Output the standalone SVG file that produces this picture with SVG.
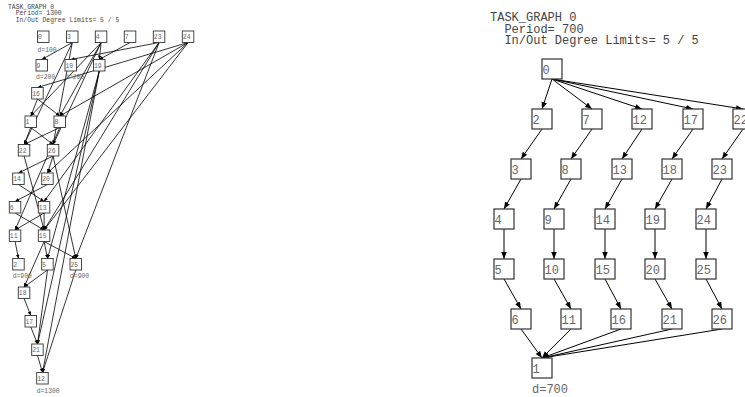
<svg xmlns="http://www.w3.org/2000/svg" width="745" height="397" viewBox="0 0 745 397">
<style>
  .bg { fill: #ffffff; }
  .t { font-family: "Liberation Mono", "DejaVu Sans Mono", monospace; fill: #444; }
  .tl { font-size: 6.4px; }
  .tr { font-size: 12px; }
  .lbl { fill: #666; }
  .boxL { fill: #fff; stroke: #333; stroke-width: 0.9; }
  .boxR { fill: #fff; stroke: #333; stroke-width: 1.2; }
  .eL { stroke: #000; stroke-width: 0.8; fill: none; marker-end: url(#arrL); }
  .eR { stroke: #000; stroke-width: 1; fill: none; marker-end: url(#arrR); }
</style>
<defs>
  <marker id="arrL" markerUnits="userSpaceOnUse" markerWidth="4" markerHeight="4" refX="4" refY="1.75" orient="auto">
    <path d="M0,0 L4,1.75 L0,3.5 z" fill="#000"/>
  </marker>
  <marker id="arrR" markerUnits="userSpaceOnUse" markerWidth="7" markerHeight="6" refX="7" refY="2.75" orient="auto">
    <path d="M0,0 L7,2.75 L0,5.5 z" fill="#000"/>
  </marker>
</defs>
<rect class="bg" x="0" y="0" width="745" height="397"/>

<!-- Left graph title -->
<g id="L-title" class="t tl">
  <text x="8" y="8.5">TASK_GRAPH 0</text>
  <text x="15.7" y="15">Period= 1300</text>
  <text x="15.7" y="21.5">In/Out Degree Limits= 5 / 5</text>
</g>

<!-- Right graph title -->
<g id="R-title" class="t tr">
  <text x="490" y="21">TASK_GRAPH 0</text>
  <text x="504.4" y="32.5">Period= 700</text>
  <text x="504.4" y="44">In/Out Degree Limits= 5 / 5</text>
</g>

<g id="connectors">
  <!-- left graph -->
  <line class="eL" x1="72.3" y1="42.5" x2="41.8" y2="59.5"/>
  <line class="eL" x1="72.3" y1="42.5" x2="24.1" y2="144.5"/>
  <line class="eL" x1="72.3" y1="42.5" x2="53.1" y2="144.5"/>
  <line class="eL" x1="101.1" y1="42.5" x2="99.3" y2="59.5"/>
  <line class="eL" x1="101.1" y1="42.5" x2="30.8" y2="116"/>
  <line class="eL" x1="101.1" y1="42.5" x2="59.8" y2="116"/>
  <line class="eL" x1="101.1" y1="42.5" x2="53.1" y2="144.5"/>
  <line class="eL" x1="130.1" y1="42.5" x2="99.3" y2="59.5"/>
  <line class="eL" x1="159.1" y1="42.5" x2="70.8" y2="59.5"/>
  <line class="eL" x1="159.1" y1="42.5" x2="44.1" y2="201.5"/>
  <line class="eL" x1="159.1" y1="42.5" x2="44.1" y2="230"/>
  <line class="eL" x1="159.1" y1="42.5" x2="75.8" y2="258.5"/>
  <line class="eL" x1="188.1" y1="42.5" x2="37.5" y2="87.5"/>
  <line class="eL" x1="188.1" y1="42.5" x2="59.8" y2="116"/>
  <line class="eL" x1="188.1" y1="42.5" x2="44.1" y2="230"/>
  <line class="eL" x1="188.1" y1="42.5" x2="47.5" y2="173"/>
  <line class="eL" x1="99.3" y1="71" x2="47.5" y2="258.5"/>
  <line class="eL" x1="99.3" y1="71" x2="37.5" y2="344"/>
  <line class="eL" x1="99.3" y1="71" x2="42.5" y2="372.5"/>
  <line class="eL" x1="37.5" y1="99" x2="30.8" y2="116"/>
  <line class="eL" x1="37.5" y1="99" x2="59.8" y2="116"/>
  <line class="eL" x1="30.8" y1="127.5" x2="24.1" y2="144.5"/>
  <line class="eL" x1="30.8" y1="127.5" x2="53.1" y2="144.5"/>
  <line class="eL" x1="59.8" y1="127.5" x2="24.1" y2="144.5"/>
  <line class="eL" x1="59.8" y1="127.5" x2="15.1" y2="230"/>
  <line class="eL" x1="24.1" y1="156" x2="44.1" y2="230"/>
  <line class="eL" x1="53.1" y1="156" x2="18.5" y2="173"/>
  <line class="eL" x1="53.1" y1="156" x2="47.5" y2="173"/>
  <line class="eL" x1="53.1" y1="156" x2="75.8" y2="258.5"/>
  <line class="eL" x1="18.5" y1="184.5" x2="44.1" y2="201.5"/>
  <line class="eL" x1="47.5" y1="184.5" x2="15.1" y2="201.5"/>
  <line class="eL" x1="15.1" y1="213" x2="44.1" y2="230"/>
  <line class="eL" x1="44.1" y1="213" x2="15.1" y2="230"/>
  <line class="eL" x1="44.1" y1="213" x2="44.1" y2="230"/>
  <line class="eL" x1="15.1" y1="241.5" x2="18.5" y2="258.5"/>
  <line class="eL" x1="44.1" y1="241.5" x2="47.5" y2="258.5"/>
  <line class="eL" x1="44.1" y1="241.5" x2="24.1" y2="287"/>
  <line class="eL" x1="44.1" y1="241.5" x2="75.8" y2="258.5"/>
  <line class="eL" x1="47.5" y1="270" x2="24.1" y2="287"/>
  <line class="eL" x1="47.5" y1="270" x2="37.5" y2="344"/>
  <line class="eL" x1="24.1" y1="298.5" x2="30.8" y2="315.5"/>
  <line class="eL" x1="30.8" y1="327" x2="37.5" y2="344"/>
  <line class="eL" x1="37.5" y1="355.5" x2="42.5" y2="372.5"/>
  <line class="eL" x1="75.8" y1="270" x2="42.5" y2="372.5"/>

  <!-- right graph -->
  <line class="eR" x1="552" y1="79" x2="542" y2="109"/>
  <line class="eR" x1="552" y1="79" x2="592" y2="109"/>
  <line class="eR" x1="552" y1="79" x2="642" y2="109"/>
  <line class="eR" x1="552" y1="79" x2="693" y2="109"/>
  <line class="eR" x1="552" y1="79" x2="743" y2="109"/>

  <line class="eR" x1="542" y1="129" x2="521" y2="159"/>
  <line class="eR" x1="592" y1="129" x2="571" y2="159"/>
  <line class="eR" x1="642" y1="129" x2="622" y2="159"/>
  <line class="eR" x1="693" y1="129" x2="672" y2="159"/>
  <line class="eR" x1="743" y1="129" x2="722" y2="159"/>

  <line class="eR" x1="521" y1="179" x2="504" y2="209"/>
  <line class="eR" x1="571" y1="179" x2="554" y2="209"/>
  <line class="eR" x1="622" y1="179" x2="605" y2="209"/>
  <line class="eR" x1="672" y1="179" x2="655" y2="209"/>
  <line class="eR" x1="722" y1="179" x2="706" y2="209"/>

  <line class="eR" x1="504" y1="229" x2="504" y2="259"/>
  <line class="eR" x1="554" y1="229" x2="554" y2="259"/>
  <line class="eR" x1="605" y1="229" x2="605" y2="259"/>
  <line class="eR" x1="655" y1="229" x2="655" y2="259"/>
  <line class="eR" x1="706" y1="229" x2="706" y2="259"/>

  <line class="eR" x1="504" y1="279" x2="521" y2="309"/>
  <line class="eR" x1="554" y1="279" x2="571" y2="309"/>
  <line class="eR" x1="605" y1="279" x2="621" y2="309"/>
  <line class="eR" x1="655" y1="279" x2="672" y2="309"/>
  <line class="eR" x1="706" y1="279" x2="722" y2="309"/>

  <line class="eR" x1="521" y1="329" x2="542" y2="358"/>
  <line class="eR" x1="571" y1="329" x2="542" y2="358"/>
  <line class="eR" x1="621" y1="329" x2="542" y2="358"/>
  <line class="eR" x1="672" y1="329" x2="542" y2="358"/>
  <line class="eR" x1="722" y1="329" x2="542" y2="358"/>
</g>

<!-- Left graph nodes -->
<g id="L-n0"><rect class="boxL" x="37.5" y="31" width="11.5" height="11.5"/><text class="t tl lbl" x="38" y="39.3">0</text><text class="t tl lbl" x="37.5" y="51.5">d=100</text></g>
<g id="L-n3"><rect class="boxL" x="66.5" y="31" width="11.5" height="11.5"/><text class="t tl lbl" x="67" y="39.3">3</text></g>
<g id="L-n4"><rect class="boxL" x="95.3" y="31" width="11.5" height="11.5"/><text class="t tl lbl" x="95.8" y="39.3">4</text></g>
<g id="L-n7"><rect class="boxL" x="124.3" y="31" width="11.5" height="11.5"/><text class="t tl lbl" x="124.8" y="39.3">7</text></g>
<g id="L-n23"><rect class="boxL" x="153.3" y="31" width="11.5" height="11.5"/><text class="t tl lbl" x="153.8" y="39.3">23</text></g>
<g id="L-n24"><rect class="boxL" x="182.3" y="31" width="11.5" height="11.5"/><text class="t tl lbl" x="182.8" y="39.3">24</text></g>
<g id="L-n9"><rect class="boxL" x="36" y="59.5" width="11.5" height="11.5"/><text class="t tl lbl" x="36.5" y="67.8">9</text><text class="t tl lbl" x="36" y="78.5">d=200</text></g>
<g id="L-n10"><rect class="boxL" x="65" y="59.5" width="11.5" height="11.5"/><text class="t tl lbl" x="65.5" y="67.8">10</text><text class="t tl lbl" x="65" y="78.5">d=200</text></g>
<g id="L-n19"><rect class="boxL" x="93.5" y="59.5" width="11.5" height="11.5"/><text class="t tl lbl" x="94" y="67.8">19</text></g>
<g id="L-n16"><rect class="boxL" x="31.7" y="87.5" width="11.5" height="11.5"/><text class="t tl lbl" x="32.2" y="95.8">16</text></g>
<g id="L-n1"><rect class="boxL" x="25" y="116" width="11.5" height="11.5"/><text class="t tl lbl" x="25.5" y="124.3">1</text></g>
<g id="L-n8"><rect class="boxL" x="54" y="116" width="11.5" height="11.5"/><text class="t tl lbl" x="54.5" y="124.3">8</text></g>
<g id="L-n22"><rect class="boxL" x="18.3" y="144.5" width="11.5" height="11.5"/><text class="t tl lbl" x="18.8" y="152.8">22</text></g>
<g id="L-n26"><rect class="boxL" x="47.3" y="144.5" width="11.5" height="11.5"/><text class="t tl lbl" x="47.8" y="152.8">26</text></g>
<g id="L-n14"><rect class="boxL" x="12.7" y="173" width="11.5" height="11.5"/><text class="t tl lbl" x="13.2" y="181.3">14</text></g>
<g id="L-n20"><rect class="boxL" x="41.7" y="173" width="11.5" height="11.5"/><text class="t tl lbl" x="42.2" y="181.3">20</text></g>
<g id="L-n6"><rect class="boxL" x="9.3" y="201.5" width="11.5" height="11.5"/><text class="t tl lbl" x="9.8" y="209.8">6</text></g>
<g id="L-n13"><rect class="boxL" x="38.3" y="201.5" width="11.5" height="11.5"/><text class="t tl lbl" x="38.8" y="209.8">13</text></g>
<g id="L-n11"><rect class="boxL" x="9.3" y="230" width="11.5" height="11.5"/><text class="t tl lbl" x="9.8" y="238.3">11</text></g>
<g id="L-n15"><rect class="boxL" x="38.3" y="230" width="11.5" height="11.5"/><text class="t tl lbl" x="38.8" y="238.3">15</text></g>
<g id="L-n2"><rect class="boxL" x="12.7" y="258.5" width="11.5" height="11.5"/><text class="t tl lbl" x="13.2" y="266.8">2</text><text class="t tl lbl" x="12.7" y="277.5">d=900</text></g>
<g id="L-n5"><rect class="boxL" x="41.7" y="258.5" width="11.5" height="11.5"/><text class="t tl lbl" x="42.2" y="266.8">5</text></g>
<g id="L-n25"><rect class="boxL" x="70" y="258.5" width="11.5" height="11.5"/><text class="t tl lbl" x="70.5" y="266.8">25</text><text class="t tl lbl" x="70" y="277.5">d=900</text></g>
<g id="L-n18"><rect class="boxL" x="18.3" y="287" width="11.5" height="11.5"/><text class="t tl lbl" x="18.8" y="295.3">18</text></g>
<g id="L-n17"><rect class="boxL" x="25" y="315.5" width="11.5" height="11.5"/><text class="t tl lbl" x="25.5" y="323.8">17</text></g>
<g id="L-n21"><rect class="boxL" x="31.7" y="344" width="11.5" height="11.5"/><text class="t tl lbl" x="32.2" y="352.3">21</text></g>
<g id="L-n12"><rect class="boxL" x="36.7" y="372.5" width="11.5" height="11.5"/><text class="t tl lbl" x="37.2" y="380.8">12</text><text class="t tl lbl" x="36.7" y="393">d=1300</text></g>

<!-- Right graph nodes -->
<g id="R-n0"><rect class="boxR" x="542" y="59" width="20" height="20"/><text class="t tr lbl" x="542.5" y="73.5">0</text></g>
<g id="R-n2"><rect class="boxR" x="532" y="109" width="20" height="20"/><text class="t tr lbl" x="532.5" y="123.5">2</text></g>
<g id="R-n7"><rect class="boxR" x="582" y="109" width="20" height="20"/><text class="t tr lbl" x="582.5" y="123.5">7</text></g>
<g id="R-n12"><rect class="boxR" x="632" y="109" width="20" height="20"/><text class="t tr lbl" x="632.5" y="123.5">12</text></g>
<g id="R-n17"><rect class="boxR" x="683" y="109" width="20" height="20"/><text class="t tr lbl" x="683.5" y="123.5">17</text></g>
<g id="R-n22"><rect class="boxR" x="733" y="109" width="20" height="20"/><text class="t tr lbl" x="733.5" y="123.5">22</text></g>
<g id="R-n3"><rect class="boxR" x="511" y="159" width="20" height="20"/><text class="t tr lbl" x="511.5" y="173.5">3</text></g>
<g id="R-n8"><rect class="boxR" x="561" y="159" width="20" height="20"/><text class="t tr lbl" x="561.5" y="173.5">8</text></g>
<g id="R-n13"><rect class="boxR" x="612" y="159" width="20" height="20"/><text class="t tr lbl" x="612.5" y="173.5">13</text></g>
<g id="R-n18"><rect class="boxR" x="662" y="159" width="20" height="20"/><text class="t tr lbl" x="662.5" y="173.5">18</text></g>
<g id="R-n23"><rect class="boxR" x="712" y="159" width="20" height="20"/><text class="t tr lbl" x="712.5" y="173.5">23</text></g>
<g id="R-n4"><rect class="boxR" x="494" y="209" width="20" height="20"/><text class="t tr lbl" x="494.5" y="223.5">4</text></g>
<g id="R-n9"><rect class="boxR" x="544" y="209" width="20" height="20"/><text class="t tr lbl" x="544.5" y="223.5">9</text></g>
<g id="R-n14"><rect class="boxR" x="595" y="209" width="20" height="20"/><text class="t tr lbl" x="595.5" y="223.5">14</text></g>
<g id="R-n19"><rect class="boxR" x="645" y="209" width="20" height="20"/><text class="t tr lbl" x="645.5" y="223.5">19</text></g>
<g id="R-n24"><rect class="boxR" x="696" y="209" width="20" height="20"/><text class="t tr lbl" x="696.5" y="223.5">24</text></g>
<g id="R-n5"><rect class="boxR" x="494" y="259" width="20" height="20"/><text class="t tr lbl" x="494.5" y="273.5">5</text></g>
<g id="R-n10"><rect class="boxR" x="544" y="259" width="20" height="20"/><text class="t tr lbl" x="544.5" y="273.5">10</text></g>
<g id="R-n15"><rect class="boxR" x="595" y="259" width="20" height="20"/><text class="t tr lbl" x="595.5" y="273.5">15</text></g>
<g id="R-n20"><rect class="boxR" x="645" y="259" width="20" height="20"/><text class="t tr lbl" x="645.5" y="273.5">20</text></g>
<g id="R-n25"><rect class="boxR" x="696" y="259" width="20" height="20"/><text class="t tr lbl" x="696.5" y="273.5">25</text></g>
<g id="R-n6"><rect class="boxR" x="511" y="309" width="20" height="20"/><text class="t tr lbl" x="511.5" y="323.5">6</text></g>
<g id="R-n11"><rect class="boxR" x="561" y="309" width="20" height="20"/><text class="t tr lbl" x="561.5" y="323.5">11</text></g>
<g id="R-n16"><rect class="boxR" x="611" y="309" width="20" height="20"/><text class="t tr lbl" x="611.5" y="323.5">16</text></g>
<g id="R-n21"><rect class="boxR" x="662" y="309" width="20" height="20"/><text class="t tr lbl" x="662.5" y="323.5">21</text></g>
<g id="R-n26"><rect class="boxR" x="712" y="309" width="20" height="20"/><text class="t tr lbl" x="712.5" y="323.5">26</text></g>
<g id="R-n1"><rect class="boxR" x="532" y="358" width="20" height="20"/><text class="t tr lbl" x="532.5" y="372.5">1</text><text class="t tr lbl" x="532" y="393">d=700</text></g>
</svg>
